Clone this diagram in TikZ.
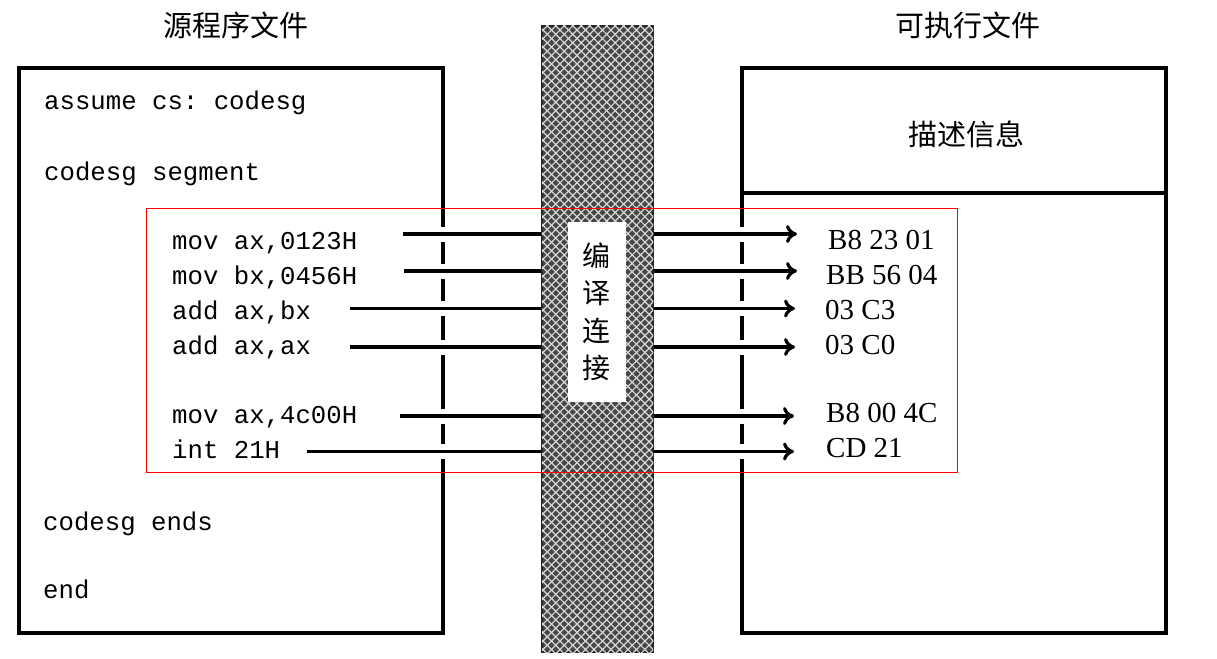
\documentclass[tikz,border=0pt]{standalone}
\usepackage{fontspec}
\setmainfont{Liberation Serif}
\setmonofont{Liberation Mono}
\newfontfamily\cjk{Noto Sans CJK SC}
\usetikzlibrary{arrows.meta,patterns.meta}

\tikzset{
  filebox/.style={draw, line width=4.5pt},
  band/.style={fill=black!72, draw=black!85, line width=1.5pt, inner sep=0pt,
    minimum width=111pt, minimum height=626pt,
    postaction={pattern={Lines[angle=45,distance=6pt,line width=1.2pt]}, pattern color=white!85!black},
    postaction={pattern={Lines[angle=-45,distance=6pt,line width=1.2pt]}, pattern color=white!85!black}},
  namebox/.style={fill=white, inner sep=0pt, minimum width=58pt, minimum height=180pt,
    align=center, font=\cjk\fontsize{28}{37.5}\selectfont},
  title/.style={font=\cjk\fontsize{29}{32}\selectfont, inner sep=0pt},
  codeline/.style={anchor=base west, inner sep=0pt, font=\ttfamily\fontsize{25.7}{30}\selectfont},
  hexline/.style={anchor=west, inner sep=0pt, font=\fontsize{29}{32}\selectfont},
  link/.style={line width=3.2pt, preaction={draw=white, line width=15pt, -}},
  tolink/.style={link, -{To[length=11pt,width=18pt]}}
}

\begin{document}
\begin{tikzpicture}[x=1pt, y=-1pt]
        \useasboundingbox (0,0) rectangle (1217,658);
        \node[band] (band) at (597.5,339) {};
        \node[namebox] (compile) at (596.5,312) {编\\译\\连\\接};
        \draw[filebox] (19,68) rectangle (443,633);
        \draw[filebox] (742,68) rectangle (1166,633);
        \draw[filebox] (742,193) -- (1166,193);
        \node[title] (srctitle) at (236,25) {源程序文件};
        \node[title] (exetitle) at (968,25) {可执行文件};
        \node[title] (header) at (966,134) {描述信息};
        \coordinate (m1) at (403,234);
        \coordinate (m2) at (404,271);
        \coordinate (m3) at (350,308.5);
        \coordinate (m4) at (350,347);
        \coordinate (m5) at (400,416);
        \coordinate (m6) at (307,451.5);
        \coordinate (o1) at (797,234);
        \coordinate (o2) at (797,271);
        \coordinate (o3) at (795,308.5);
        \coordinate (o4) at (795,347);
        \coordinate (o5) at (794,416);
        \coordinate (o6) at (794,451.5);
        \draw[link] (m1) -- (m1 -| band.west);
        \draw[link] (m2) -- (m2 -| band.west);
        \draw[link] (m3) -- (m3 -| band.west);
        \draw[link] (m4) -- (m4 -| band.west);
        \draw[link] (m5) -- (m5 -| band.west);
        \draw[link] (m6) -- (m6 -| band.west);
        \draw[tolink] (o1 -| band.east) -- (o1);
        \draw[tolink] (o2 -| band.east) -- (o2);
        \draw[tolink] (o3 -| band.east) -- (o3);
        \draw[tolink] (o4 -| band.east) -- (o4);
        \draw[tolink] (o5 -| band.east) -- (o5);
        \draw[tolink] (o6 -| band.east) -- (o6);
        \node[codeline] (assume) at (44,110) {assume cs: codesg};
        \node[codeline] (segment) at (44,180) {codesg segment};
        \node[codeline] (movax) at (172,249) {mov ax,0123H};
        \node[codeline] (movbx) at (172,284) {mov bx,0456H};
        \node[codeline] (addbx) at (172,319) {add ax,bx};
        \node[codeline] (addax) at (172,354) {add ax,ax};
        \node[codeline] (movexit) at (172,423) {mov ax,4c00H};
        \node[codeline] (intexit) at (172,458) {int 21H};
        \node[codeline] (segends) at (43,530) {codesg ends};
        \node[codeline] (progend) at (43,598) {end};
        \node[hexline] (hexmovax) at (828,240) {B8 23 01};
        \node[hexline] (hexmovbx) at (826,275) {BB 56 04};
        \node[hexline] (hexaddbx) at (825,310) {03 C3};
        \node[hexline] (hexaddax) at (825,345) {03 C0};
        \node[hexline] (hexmovexit) at (826,413) {B8 00 4C};
        \node[hexline] (hexintexit) at (826,448) {CD 21};
        \draw[red, line width=1pt] (146,208) rectangle (957,472);
      \end{tikzpicture}
\end{document}
